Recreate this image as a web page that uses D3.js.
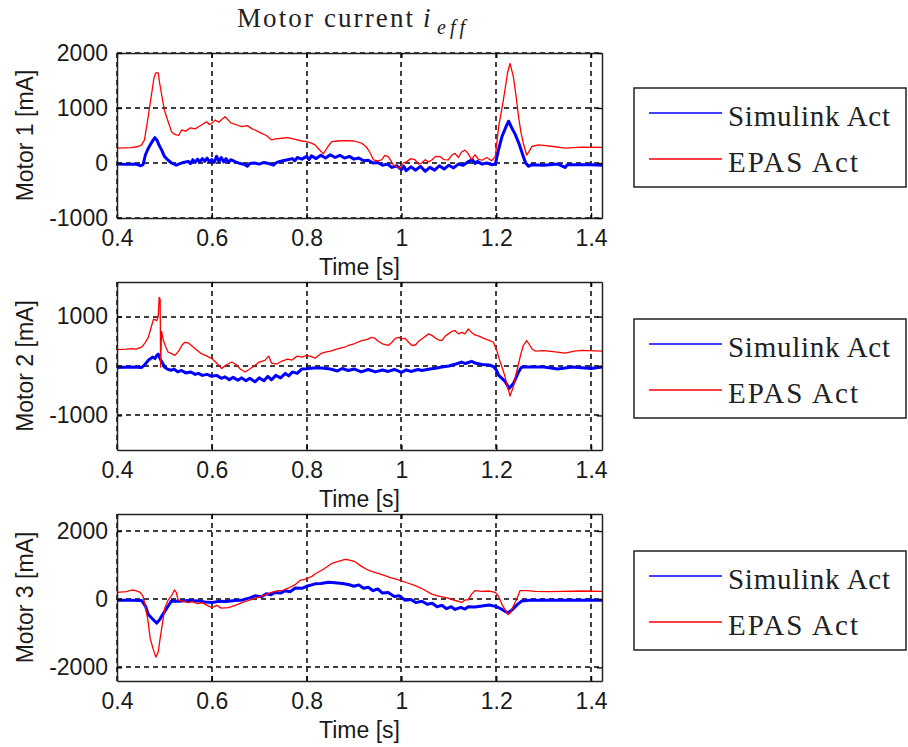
<!DOCTYPE html>
<html>
<head>
<meta charset="utf-8">
<script src="https://cdn.jsdelivr.net/npm/d3@7"></script>
<style>
  body { margin: 0; background: #fff; }
  svg { display: block; }
  .tick text { font-family: "Liberation Sans", Arial, sans-serif; font-size: 23px; fill: #1a1a1a; }
</style>
</head>
<body>
<svg id="chart" width="908" height="747"></svg>
<script>
// ---- data (time [s], current [mA]) ----
var timeTicks = [0.4, 0.6, 0.8, 1.0, 1.2, 1.4];
var motorLabels = ['Motor 1 [mA]', 'Motor 2 [mA]', 'Motor 3 [mA]'];
var seriesNames = ['Simulink Act', 'EPAS Act'];
var yTicks1 = [-1000, 0, 1000, 2000];
var yTicks2 = [-1000, 0, 1000];
var yTicks3 = [-2000, 0, 2000];

var motor1Sim = [[0.400,-20],[0.420,-25],[0.440,-20],[0.450,-50],[0.455,-30],[0.460,150],[0.465,250],[0.470,330],[0.475,400],[0.480,460],[0.484,420],[0.488,340],[0.495,220],[0.500,120],[0.508,50],[0.515,0],[0.525,-40],[0.530,-20],[0.540,10],[0.550,30],[0.555,-10],[0.560,60],[0.565,10],[0.570,70],[0.575,20],[0.580,80],[0.585,30],[0.590,90],[0.595,20],[0.600,60],[0.605,10],[0.610,120],[0.615,30],[0.620,100],[0.625,20],[0.630,80],[0.635,10],[0.640,60],[0.650,20],[0.660,-10],[0.670,-30],[0.675,-60],[0.680,-10],[0.690,0],[0.700,-20],[0.710,10],[0.720,-10],[0.730,-40],[0.735,0],[0.740,20],[0.750,40],[0.760,60],[0.770,80],[0.775,40],[0.780,100],[0.790,70],[0.800,120],[0.805,60],[0.810,130],[0.820,80],[0.830,140],[0.840,90],[0.850,150],[0.860,100],[0.870,140],[0.880,90],[0.890,120],[0.900,70],[0.910,90],[0.920,40],[0.930,50],[0.940,0],[0.950,10],[0.960,-40],[0.970,-20],[0.980,-80],[0.990,-50],[1.000,-120],[1.005,-60],[1.010,-140],[1.020,-70],[1.030,-130],[1.040,-60],[1.050,-150],[1.060,-80],[1.070,-130],[1.080,-50],[1.090,-110],[1.100,-40],[1.110,-90],[1.120,-20],[1.130,-40],[1.140,20],[1.150,60],[1.155,-10],[1.160,30],[1.170,-20],[1.180,0],[1.190,-30],[1.198,-20],[1.205,250],[1.212,480],[1.220,650],[1.226,760],[1.232,650],[1.240,520],[1.248,350],[1.257,120],[1.262,0],[1.268,-60],[1.275,-30],[1.300,-40],[1.330,-20],[1.345,-80],[1.350,-30],[1.400,-30],[1.423,-40]];

var motor1Epas = [[0.400,270],[0.430,280],[0.445,300],[0.452,330],[0.458,420],[0.465,800],[0.472,1200],[0.478,1550],[0.482,1640],[0.487,1640],[0.490,1450],[0.495,1200],[0.500,960],[0.508,750],[0.515,570],[0.522,520],[0.530,500],[0.536,600],[0.545,580],[0.555,640],[0.565,620],[0.572,660],[0.580,700],[0.589,750],[0.595,700],[0.600,720],[0.607,780],[0.615,740],[0.622,800],[0.628,840],[0.635,780],[0.640,730],[0.650,700],[0.663,660],[0.675,680],[0.685,620],[0.691,600],[0.700,560],[0.705,540],[0.715,500],[0.726,420],[0.735,440],[0.748,450],[0.760,460],[0.776,430],[0.790,400],[0.800,390],[0.810,360],[0.818,330],[0.826,250],[0.835,165],[0.845,300],[0.853,390],[0.865,400],[0.881,405],[0.900,400],[0.916,360],[0.925,300],[0.930,240],[0.936,150],[0.941,55],[0.950,40],[0.958,55],[0.965,140],[0.972,115],[0.978,40],[0.983,-36],[0.990,-60],[0.997,-100],[1.004,0],[1.011,25],[1.020,80],[1.029,55],[1.036,-20],[1.043,0],[1.050,60],[1.057,20],[1.064,55],[1.072,120],[1.082,115],[1.090,60],[1.099,55],[1.106,140],[1.113,175],[1.120,100],[1.127,200],[1.134,235],[1.140,180],[1.148,60],[1.155,150],[1.162,70],[1.170,50],[1.180,100],[1.190,40],[1.198,120],[1.205,660],[1.215,1145],[1.224,1650],[1.229,1810],[1.236,1570],[1.242,1200],[1.247,840],[1.252,560],[1.257,360],[1.264,145],[1.270,220],[1.275,300],[1.289,330],[1.300,320],[1.320,300],[1.345,270],[1.380,290],[1.423,285]];

var motor2Sim = [[0.400,-30],[0.430,-20],[0.452,-30],[0.458,20],[0.466,115],[0.475,180],[0.480,150],[0.484,215],[0.487,240],[0.491,140],[0.496,60],[0.501,-30],[0.508,-70],[0.515,-87],[0.520,-60],[0.528,-120],[0.536,-90],[0.545,-140],[0.555,-120],[0.565,-170],[0.572,-150],[0.580,-190],[0.590,-170],[0.600,-208],[0.610,-190],[0.620,-250],[0.628,-220],[0.637,-280],[0.645,-230],[0.655,-290],[0.663,-240],[0.672,-300],[0.680,-250],[0.691,-320],[0.700,-240],[0.710,-300],[0.718,-210],[0.726,-280],[0.735,-190],[0.745,-240],[0.755,-150],[0.762,-200],[0.770,-120],[0.780,-150],[0.790,-60],[0.800,-55],[0.815,-40],[0.832,-40],[0.850,-60],[0.865,-100],[0.875,-50],[0.888,-90],[0.900,-60],[0.915,-120],[0.930,-70],[0.945,-120],[0.960,-80],[0.972,-110],[0.985,-70],[1.000,-130],[1.010,-80],[1.020,-110],[1.035,-70],[1.043,-90],[1.060,-60],[1.075,-40],[1.085,-20],[1.100,0],[1.115,40],[1.127,80],[1.135,50],[1.148,95],[1.155,60],[1.170,30],[1.185,20],[1.194,-10],[1.200,-80],[1.205,-190],[1.212,-250],[1.219,-320],[1.224,-400],[1.227,-455],[1.232,-400],[1.236,-355],[1.241,-250],[1.247,-120],[1.252,-40],[1.257,-20],[1.300,-20],[1.330,-60],[1.360,-20],[1.400,-50],[1.423,-20]];

var motor2Epas = [[0.400,330],[0.420,340],[0.431,350],[0.440,340],[0.452,380],[0.460,480],[0.466,580],[0.472,780],[0.477,950],[0.484,920],[0.487,1000],[0.489,1390],[0.491,1350],[0.492,-20],[0.494,700],[0.498,515],[0.503,380],[0.508,280],[0.515,250],[0.522,215],[0.530,300],[0.537,420],[0.543,480],[0.550,470],[0.557,415],[0.565,350],[0.578,250],[0.590,200],[0.600,150],[0.610,60],[0.621,-50],[0.630,20],[0.642,80],[0.650,40],[0.660,-60],[0.670,-120],[0.680,-60],[0.691,13],[0.700,80],[0.712,115],[0.720,200],[0.726,60],[0.737,40],[0.748,100],[0.760,140],[0.769,120],[0.780,200],[0.790,180],[0.800,215],[0.810,190],[0.818,160],[0.830,250],[0.839,280],[0.850,300],[0.867,350],[0.880,380],[0.888,415],[0.900,450],[0.916,515],[0.928,540],[0.937,580],[0.944,560],[0.951,500],[0.960,450],[0.972,415],[0.980,480],[0.987,560],[0.994,580],[1.000,550],[1.008,560],[1.015,480],[1.022,415],[1.030,430],[1.036,500],[1.045,560],[1.057,650],[1.064,620],[1.071,570],[1.078,530],[1.085,515],[1.092,600],[1.099,650],[1.106,700],[1.113,717],[1.120,650],[1.127,680],[1.134,650],[1.141,750],[1.148,680],[1.155,630],[1.165,600],[1.176,550],[1.185,520],[1.194,480],[1.201,315],[1.206,150],[1.212,-20],[1.218,-200],[1.222,-355],[1.226,-500],[1.229,-610],[1.233,-500],[1.236,-420],[1.241,-200],[1.247,47],[1.252,250],[1.257,415],[1.264,515],[1.270,430],[1.275,350],[1.283,300],[1.300,310],[1.320,290],[1.345,260],[1.365,300],[1.380,315],[1.423,300]];

var motor3Sim = [[0.400,-30],[0.430,-30],[0.452,-40],[0.460,-200],[0.466,-450],[0.475,-580],[0.484,-700],[0.490,-600],[0.495,-480],[0.501,-350],[0.508,-200],[0.515,-50],[0.530,-60],[0.550,-40],[0.572,-50],[0.585,-80],[0.600,-100],[0.615,-60],[0.630,-70],[0.649,-40],[0.665,-20],[0.680,40],[0.691,100],[0.705,70],[0.715,160],[0.725,130],[0.733,200],[0.745,180],[0.755,250],[0.765,220],[0.776,330],[0.790,320],[0.800,380],[0.818,450],[0.830,460],[0.846,500],[0.860,480],[0.875,460],[0.888,430],[0.900,380],[0.910,420],[0.920,320],[0.930,350],[0.940,250],[0.950,300],[0.960,180],[0.972,200],[0.985,80],[0.995,100],[1.008,-30],[1.020,-10],[1.030,-100],[1.043,-60],[1.055,-150],[1.065,-120],[1.075,-220],[1.085,-180],[1.095,-280],[1.105,-220],[1.113,-300],[1.125,-240],[1.134,-290],[1.141,-220],[1.155,-230],[1.170,-200],[1.185,-170],[1.198,-210],[1.205,-250],[1.212,-300],[1.218,-350],[1.224,-400],[1.230,-350],[1.236,-280],[1.245,-150],[1.254,-50],[1.270,-30],[1.300,-30],[1.423,-30]];

var motor3Epas = [[0.400,200],[0.420,220],[0.431,270],[0.440,250],[0.449,200],[0.455,80],[0.459,-150],[0.465,-600],[0.470,-1150],[0.476,-1450],[0.482,-1700],[0.487,-1550],[0.491,-1150],[0.496,-700],[0.501,-250],[0.507,-50],[0.512,50],[0.517,150],[0.521,270],[0.525,200],[0.529,-30],[0.540,-60],[0.550,-100],[0.558,-70],[0.570,-130],[0.580,-100],[0.590,-180],[0.600,-250],[0.610,-180],[0.620,-260],[0.635,-250],[0.645,-200],[0.655,-150],[0.663,-100],[0.675,-50],[0.691,30],[0.700,60],[0.710,120],[0.726,200],[0.740,250],[0.750,260],[0.762,330],[0.775,420],[0.786,550],[0.800,600],[0.811,670],[0.820,760],[0.832,850],[0.843,950],[0.853,1050],[0.865,1100],[0.881,1170],[0.890,1150],[0.902,1100],[0.915,970],[0.930,850],[0.945,780],[0.958,730],[0.975,640],[0.994,570],[1.010,490],[1.029,400],[1.045,300],[1.064,150],[1.080,80],[1.099,30],[1.110,-30],[1.120,-60],[1.127,-100],[1.134,-20],[1.141,-20],[1.148,150],[1.155,250],[1.170,230],[1.185,240],[1.198,200],[1.205,80],[1.212,-150],[1.218,-300],[1.225,-450],[1.230,-400],[1.236,-200],[1.243,0],[1.250,250],[1.265,250],[1.282,230],[1.310,220],[1.340,230],[1.380,240],[1.423,230]];

// ---- layout ----
var plotLeft = 117, plotRight = 602;
var panels = [
    { top: 53,  bottom: 218, domain: [-1000, 2000], ticks: yTicks1, sim: motor1Sim, epas: motor1Epas, label: motorLabels[0], legendTop: 88 },
    { top: 282, bottom: 450, domain: [-1700, 1700], ticks: yTicks2, sim: motor2Sim, epas: motor2Epas, label: motorLabels[1], legendTop: 319 },
    { top: 514, bottom: 681, domain: [-2400, 2500], ticks: yTicks3, sim: motor3Sim, epas: motor3Epas, label: motorLabels[2], legendTop: 551 }
];
var colours = ['#0000ff', '#ff0000'];
var serif = '"Liberation Serif", "Times New Roman", serif';
var sans = '"Liberation Sans", Arial, sans-serif';
var plainNum = d => String(d); // matlab style: hyphen minus, "1" not "1.0"

var svg = d3.select('#chart');
svg.append('rect').attr('width', 908).attr('height', 747).attr('fill', '#fff');

var x = d3.scaleLinear().domain([0.4, 1.423]).range([plotLeft, plotRight]);

// title: Motor current i_eff
var title = svg.append('g').attr('font-family', serif).attr('fill', '#222');
title.append('text').attr('x', 237).attr('y', 27).attr('font-size', 27)
    .attr('textLength', 176).attr('lengthAdjust', 'spacing').text('Motor current');
title.append('text').attr('x', 423).attr('y', 27).attr('font-size', 27).attr('font-style', 'italic').text('i');
title.append('text').attr('x', 437).attr('y', 34).attr('font-size', 20).attr('font-style', 'italic')
    .attr('letter-spacing', 4).text('eff');

panels.forEach(function(p, i) {
    var y = d3.scaleLinear().domain(p.domain).range([p.bottom, p.top]);
    var g = svg.append('g');

    // clip to plot box
    g.append('clipPath').attr('id', 'clip' + i)
        .append('rect').attr('x', plotLeft).attr('y', p.top)
        .attr('width', plotRight - plotLeft).attr('height', p.bottom - p.top);

    // dashed grid underneath the data
    var grid = g.append('g').attr('stroke', '#000').attr('stroke-width', 1.5)
        .attr('stroke-dasharray', '5,4');
    grid.selectAll('line.gx').data(timeTicks).join('line').attr('class', 'gx')
        .attr('x1', d => Math.round(x(d))).attr('x2', d => Math.round(x(d)))
        .attr('y1', p.top).attr('y2', p.bottom);
    grid.selectAll('line.gy').data(p.ticks).join('line').attr('class', 'gy')
        .attr('y1', d => Math.round(y(d))).attr('y2', d => Math.round(y(d)))
        .attr('x1', plotLeft).attr('x2', plotRight);

    // series: simulink (thick, noisy) first, EPAS on top
    var line = d3.line().x(d => x(d[0])).y(d => y(d[1]));
    var lines = g.append('g').attr('clip-path', 'url(#clip' + i + ')').attr('fill', 'none');
    lines.append('path').datum(p.sim).attr('d', line)
        .attr('stroke', colours[0]).attr('stroke-width', 3).attr('stroke-linejoin', 'round');
    lines.append('path').datum(p.epas).attr('d', line)
        .attr('stroke', colours[1]).attr('stroke-width', 1.3).attr('stroke-linejoin', 'round');

    // axes with inward ticks on all four sides
    g.append('g').attr('transform', 'translate(0,' + p.bottom + ')')
        .call(d3.axisBottom(x).tickValues(timeTicks).tickFormat(plainNum).tickSizeInner(-5).tickSizeOuter(0).tickPadding(12));
    g.append('g').attr('transform', 'translate(0,' + p.top + ')')
        .call(d3.axisTop(x).tickValues(timeTicks).tickFormat('').tickSizeInner(-5).tickSizeOuter(0));
    g.append('g').attr('transform', 'translate(' + plotLeft + ',0)')
        .call(d3.axisLeft(y).tickValues(p.ticks).tickFormat(plainNum).tickSizeInner(-5).tickSizeOuter(0).tickPadding(9));
    g.append('g').attr('transform', 'translate(' + plotRight + ',0)')
        .call(d3.axisRight(y).tickValues(p.ticks).tickFormat('').tickSizeInner(-5).tickSizeOuter(0));
    g.selectAll('.domain').attr('stroke', '#222').attr('stroke-width', 1.5);
    g.selectAll('.tick line').attr('stroke', '#000').attr('stroke-width', 1.3);

    // axis titles
    g.append('text')
        .attr('x', (plotLeft + plotRight) / 2).attr('y', p.bottom + 57)
        .attr('text-anchor', 'middle')
        .attr('font-family', sans).attr('font-size', 23).attr('fill', '#1a1a1a')
        .text('Time [s]');
    g.append('text')
        .attr('transform', 'translate(33,' + ((p.top + p.bottom) / 2) + ') rotate(-90)')
        .attr('text-anchor', 'middle')
        .attr('font-family', sans).attr('font-size', 23).attr('fill', '#1a1a1a')
        .text(p.label);

    // legend box
    var lg = g.append('g').attr('transform', 'translate(634,' + p.legendTop + ')');
    lg.append('rect').attr('width', 272).attr('height', 99)
        .attr('fill', '#fff').attr('stroke', '#222').attr('stroke-width', 1.5);
    seriesNames.forEach(function(name, k) {
        var ly = 25 + k * 46;
        lg.append('line').attr('x1', 15).attr('x2', 88).attr('y1', ly).attr('y2', ly)
            .attr('stroke', colours[k]).attr('stroke-width', 1.5);
        lg.append('text').attr('x', 94).attr('y', ly + 13)
            .attr('font-family', serif).attr('font-size', 29).attr('fill', '#222')
            .attr('textLength', k === 0 ? 162 : 130).attr('lengthAdjust', 'spacing')
            .text(name);
    });
});
</script>
</body>
</html>
